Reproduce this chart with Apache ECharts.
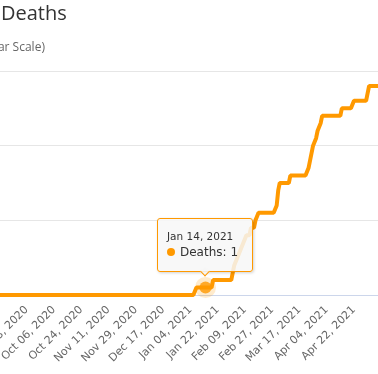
<!DOCTYPE html>
<html>
<head>
<meta charset="utf-8">
<script src="https://cdn.jsdelivr.net/npm/echarts@6/dist/echarts.min.js"></script>
<style>
  html, body { margin: 0; padding: 0; width: 378px; height: 374px; overflow: hidden; background: #fff; }
  #wrap { position: absolute; left: 0; top: 0; width: 378px; height: 374px; overflow: hidden; }
  #chart { position: absolute; left: -40px; top: 0; width: 440px; height: 374px; }
</style>
</head>
<body>
<div id="wrap"><div id="chart"></div></div>
<script>
// ---- data ----
const titleText = 'Deaths';
const subtitleText = '(Linear Scale)';
const seriesName = 'Deaths';
const startDate = '2020-08-13';   // first category (daily)
const highlightDate = 'Jan 14, 2021';
const yTicks = [0, 10, 20, 30];

// cumulative deaths, one value per day from Aug 13, 2020 to May 08, 2021
const deaths = [
  0,0,0,0,0,0,0,0,0,0, 0,0,0,0,0,0,0,0,0,0,
  0,0,0,0,0,0,0,0,0,0, 0,0,0,0,0,0,0,0,0,0,
  0,0,0,0,0,0,0,0,0,0, 0,0,0,0,0,0,0,0,0,0,
  0,0,0,0,0,0,0,0,0,0, 0,0,0,0,0,0,0,0,0,0,
  0,0,0,0,0,0,0,0,0,0, 0,0,0,0,0,0,0,0,0,0,
  0,0,0,0,0,0,0,0,0,0, 0,0,0,0,0,0,0,0,0,0,
  0,0,0,0,0,0,0,0,0,0, 0,0,0,0,0,0,0,0,0,0,
  0,0,0,0,0,0,0,0,
  // Jan 08 - Jan 18
  1,1,1,1,1,1,1,1,1,1,1,
  // Jan 19 - Jan 31
  2,2,2,2,2,2,2,2,2,2,2,2,2,
  // Feb 01 - Feb 17
  3,4,4,5,5,6,6,7,7,8,8,8,9,9,9,10,10,
  // Feb 18 - Mar 01
  11,11,11,11,11,11,11,11,11,11,11,11,
  // Mar 02, Mar 03
  12,14,
  // Mar 04 - Mar 10
  15,15,15,15,15,15,15,
  // Mar 11 - Mar 22
  16,16,16,16,16,16,16,16,16,16,16,16,
  // Mar 23 - Mar 31
  17,18,19,20,20,21,22,22,23,
  // Apr 01 - Apr 13
  24,24,24,24,24,24,24,24,24,24,24,24,24,
  // Apr 14 - Apr 21
  25,25,25,25,25,25,25,25,
  // Apr 22 - Apr 30
  26,26,26,26,26,26,26,26,26,
  // May 01
  27,
  // May 02 - May 08
  28,28,28,28,28,28,28
];

// daily category labels
const monthNames = ['Jan','Feb','Mar','Apr','May','Jun','Jul','Aug','Sep','Oct','Nov','Dec'];
const categories = [];
(function () {
  const p = startDate.split('-').map(Number);
  for (let i = 0; i < deaths.length; i++) {
    const d = new Date(Date.UTC(p[0], p[1] - 1, p[2] + i));
    const dd = String(d.getUTCDate()).padStart(2, '0');
    categories.push(monthNames[d.getUTCMonth()] + ' ' + dd + ', ' + d.getUTCFullYear());
  }
})();
const hiIdx = categories.indexOf(highlightDate);

const orange = '#ff9900';
const chart = echarts.init(document.getElementById('chart'), null, { renderer: 'canvas' });

chart.setOption({
  animation: false,
  backgroundColor: '#ffffff',
  title: [
    { text: titleText, left: 36, top: -1,
      textStyle: { fontFamily: 'Open Sans', fontSize: 20, fontWeight: 'normal', color: '#333333' } },
    { text: subtitleText, left: 6, top: 37,
      textStyle: { fontFamily: 'Open Sans', fontSize: 12, fontWeight: 'normal', color: '#666666' } }
  ],
  grid: { left: 12.2, right: 21.8, top: 71, bottom: 79, containLabel: false, outerBoundsMode: 'none' },
  tooltip: {
    trigger: 'item',
    triggerOn: 'none',
    alwaysShowContent: true,
    transitionDuration: 0,
    position: 'top',
    confine: false,
    backgroundColor: 'rgba(247,247,247,0.85)',
    borderColor: orange,
    borderWidth: 1,
    padding: [10, 14, 10, 9],
    extraCssText: 'border-radius:3px;box-shadow:1px 1px 3px rgba(0,0,0,0.18);',
    formatter: function () {
      return '<div style="font-family:DejaVu Sans;font-size:10.5px;line-height:15px;color:#333;">' + categories[hiIdx] + '</div>' +
        '<div style="font-family:DejaVu Sans;font-size:12px;line-height:17px;color:#333;white-space:nowrap;">' +
        '<span style="display:inline-block;width:8px;height:8px;border-radius:4px;background:' + orange + ';margin-right:5px;vertical-align:0px;"></span>' +
        seriesName + ': ' + deaths[hiIdx] + '</div>';
    }
  },
  xAxis: {
    type: 'category',
    data: categories,
    boundaryGap: false,
    axisLine: { show: true, lineStyle: { color: '#ccd6eb', width: 1 } },
    axisTick: { show: false },
    axisLabel: {
      interval: 17,
      rotate: 45,
      margin: 13,
      hideOverlap: false,
      fontFamily: 'DejaVu Sans',
      fontSize: 11,
      color: '#666666'
    },
    splitLine: { show: false }
  },
  yAxis: {
    type: 'value',
    min: yTicks[0],
    max: yTicks[yTicks.length - 1],
    interval: 10,
    axisLabel: { show: false },
    axisLine: { show: false },
    axisTick: { show: false },
    splitLine: { lineStyle: { color: '#e6e6e6', width: 1 } }
  },
  series: [
    {
      name: seriesName,
      type: 'line',
      data: deaths,
      showSymbol: false,
      symbol: 'none',
      lineStyle: { color: orange, width: 4 },
      itemStyle: { color: orange },
      emphasis: { disabled: true },
      silent: true,
      z: 2
    },
    {
      name: 'halo',
      type: 'scatter',
      data: [[categories[hiIdx], deaths[hiIdx]]],
      symbol: 'circle',
      symbolSize: 21,
      itemStyle: { color: 'rgba(255,153,0,0.25)' },
      emphasis: { disabled: true },
      silent: true,
      tooltip: { show: false },
      z: 3
    },
    {
      name: seriesName,
      type: 'scatter',
      data: [[categories[hiIdx], deaths[hiIdx]]],
      symbol: 'circle',
      symbolSize: 12,
      itemStyle: { color: orange },
      emphasis: { disabled: true },
      z: 4
    }
  ]
});

chart.dispatchAction({ type: 'showTip', seriesIndex: 2, dataIndex: 0 });
</script>
</body>
</html>
